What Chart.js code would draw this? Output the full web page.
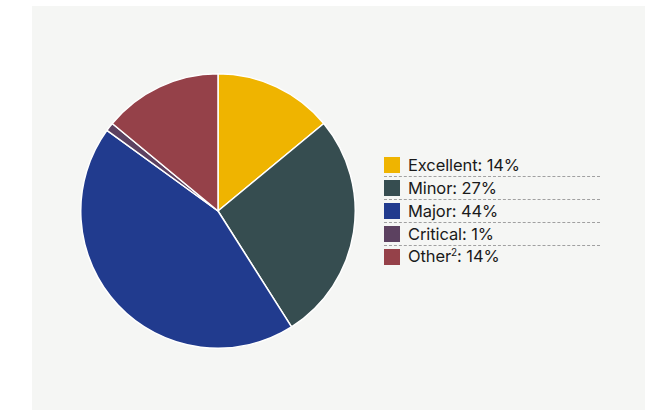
<!DOCTYPE html>
<html>
<head>
<meta charset="utf-8">
<script src="https://cdn.jsdelivr.net/npm/chart.js@4/dist/chart.umd.min.js"></script>
<style>
  html, body { margin: 0; padding: 0; background: #ffffff; }
  body { width: 661px; height: 410px; position: relative; overflow: hidden; font-family: "Inter", "Liberation Sans", sans-serif; }
  #panel { position: absolute; left: 32px; top: 6px; width: 613px; height: 404px; background: #f5f6f4; }
  #pieBox { position: absolute; left: 80px; top: 73px; width: 276px; height: 276px; }
  #legend { position: absolute; left: 384px; top: 154.5px; width: 216px; }
  .row { height: 22.75px; box-sizing: border-box; display: flex; align-items: center; border-bottom: 1px dashed #a0a0a0; }
  .row:last-child { border-bottom: none; }
  .sw { width: 16px; height: 16px; margin-right: 8px; flex: none; }
  .lbl { font-size: 16.5px; color: #1a1a1a; line-height: 17px; white-space: nowrap; letter-spacing: -0.1px; position: relative; top: 0.5px; }
  sup { font-size: 10px; vertical-align: 0; position: relative; top: -6px; }
</style>
</head>
<body>
<div id="panel"></div>
<div id="pieBox"><canvas id="c"></canvas></div>
<div id="legend"></div>
<script>
const categories = ["Excellent", "Minor", "Major", "Critical", "Other"];
const superscripts = ["", "", "", "", "2"];
const values = [14, 27, 44, 1, 14];
const colors = ["#efb400", "#364d50", "#213b8e", "#5c4160", "#954149"];

new Chart(document.getElementById("c"), {
  type: "pie",
  data: {
    labels: categories,
    datasets: [{
      data: values,
      backgroundColor: colors,
      borderColor: "#ffffff",
      borderWidth: 1.5
    }]
  },
  options: {
    responsive: true,
    maintainAspectRatio: false,
    animation: false,
    layout: { padding: 0 },
    plugins: { legend: { display: false }, tooltip: { enabled: false } }
  }
});

const legend = document.getElementById("legend");
categories.forEach((cat, i) => {
  const row = document.createElement("div");
  row.className = "row";
  const sw = document.createElement("div");
  sw.className = "sw";
  sw.style.background = colors[i];
  const lbl = document.createElement("span");
  lbl.className = "lbl";
  lbl.innerHTML = cat + (superscripts[i] ? "<sup>" + superscripts[i] + "</sup>" : "") + ": " + values[i] + "%";
  row.appendChild(sw);
  row.appendChild(lbl);
  legend.appendChild(row);
});
</script>
</body>
</html>
